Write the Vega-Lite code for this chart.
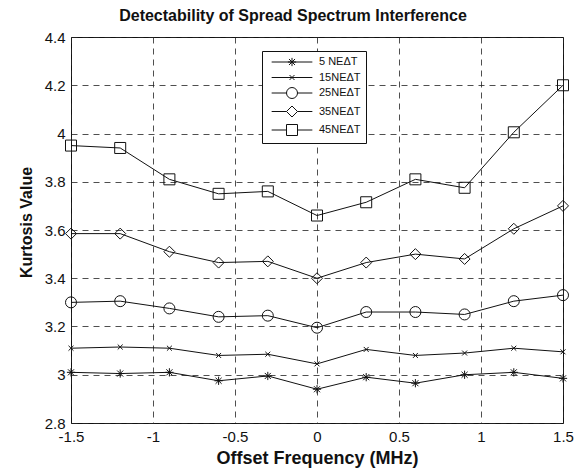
{
  "$schema": "https://vega.github.io/schema/vega-lite/v6.json",
  "width": 492,
  "height": 386,
  "autosize": {"type": "none"},
  "padding": {"left": 71, "top": 37, "right": 21, "bottom": 47},
  "background": "white",
  "title": {"text": "Detectability of Spread Spectrum Interference", "font": "Liberation Sans", "fontSize": 16, "fontWeight": "bold", "color": "#111", "offset": 6, "dx": -24},
  "config": {
    "view": {"stroke": "#111", "strokeWidth": 1},
    "axis": {"labelFont": "Liberation Sans", "titleFont": "Liberation Sans", "labelFontSize": 15, "titleFontSize": 16, "titleFontWeight": "bold", "labelColor": "#111", "titleColor": "#111", "grid": true, "gridColor": "#222", "gridDash": [6, 5], "gridOpacity": 1, "gridWidth": 0.8, "domain": false, "ticks": false, "labelOverlap": false, "labelFlush": false, "labelBound": false, "labelExpr": "'' + datum.value"}
  },
  "resolve": {"scale": {"shape": "independent"}},
  "data": {"values": [
    {"x": -1.5, "s": "5 NEΔT", "y": 3.01}, {"x": -1.2, "s": "5 NEΔT", "y": 3.005}, {"x": -0.9, "s": "5 NEΔT", "y": 3.01}, {"x": -0.6, "s": "5 NEΔT", "y": 2.975}, {"x": -0.3, "s": "5 NEΔT", "y": 2.995}, {"x": 0, "s": "5 NEΔT", "y": 2.94}, {"x": 0.3, "s": "5 NEΔT", "y": 2.99}, {"x": 0.6, "s": "5 NEΔT", "y": 2.965}, {"x": 0.9, "s": "5 NEΔT", "y": 3.0}, {"x": 1.2, "s": "5 NEΔT", "y": 3.01}, {"x": 1.5, "s": "5 NEΔT", "y": 2.985},
    {"x": -1.5, "s": "15NEΔT", "y": 3.11}, {"x": -1.2, "s": "15NEΔT", "y": 3.115}, {"x": -0.9, "s": "15NEΔT", "y": 3.11}, {"x": -0.6, "s": "15NEΔT", "y": 3.08}, {"x": -0.3, "s": "15NEΔT", "y": 3.085}, {"x": 0, "s": "15NEΔT", "y": 3.045}, {"x": 0.3, "s": "15NEΔT", "y": 3.105}, {"x": 0.6, "s": "15NEΔT", "y": 3.08}, {"x": 0.9, "s": "15NEΔT", "y": 3.09}, {"x": 1.2, "s": "15NEΔT", "y": 3.11}, {"x": 1.5, "s": "15NEΔT", "y": 3.095},
    {"x": -1.5, "s": "25NEΔT", "y": 3.30}, {"x": -1.2, "s": "25NEΔT", "y": 3.305}, {"x": -0.9, "s": "25NEΔT", "y": 3.275}, {"x": -0.6, "s": "25NEΔT", "y": 3.24}, {"x": -0.3, "s": "25NEΔT", "y": 3.245}, {"x": 0, "s": "25NEΔT", "y": 3.195}, {"x": 0.3, "s": "25NEΔT", "y": 3.26}, {"x": 0.6, "s": "25NEΔT", "y": 3.26}, {"x": 0.9, "s": "25NEΔT", "y": 3.25}, {"x": 1.2, "s": "25NEΔT", "y": 3.305}, {"x": 1.5, "s": "25NEΔT", "y": 3.33},
    {"x": -1.5, "s": "35NEΔT", "y": 3.585}, {"x": -1.2, "s": "35NEΔT", "y": 3.585}, {"x": -0.9, "s": "35NEΔT", "y": 3.51}, {"x": -0.6, "s": "35NEΔT", "y": 3.465}, {"x": -0.3, "s": "35NEΔT", "y": 3.47}, {"x": 0, "s": "35NEΔT", "y": 3.40}, {"x": 0.3, "s": "35NEΔT", "y": 3.465}, {"x": 0.6, "s": "35NEΔT", "y": 3.50}, {"x": 0.9, "s": "35NEΔT", "y": 3.48}, {"x": 1.2, "s": "35NEΔT", "y": 3.605}, {"x": 1.5, "s": "35NEΔT", "y": 3.70},
    {"x": -1.5, "s": "45NEΔT", "y": 3.95}, {"x": -1.2, "s": "45NEΔT", "y": 3.94}, {"x": -0.9, "s": "45NEΔT", "y": 3.81}, {"x": -0.6, "s": "45NEΔT", "y": 3.75}, {"x": -0.3, "s": "45NEΔT", "y": 3.76}, {"x": 0, "s": "45NEΔT", "y": 3.66}, {"x": 0.3, "s": "45NEΔT", "y": 3.715}, {"x": 0.6, "s": "45NEΔT", "y": 3.81}, {"x": 0.9, "s": "45NEΔT", "y": 3.775}, {"x": 1.2, "s": "45NEΔT", "y": 4.005}, {"x": 1.5, "s": "45NEΔT", "y": 4.2}
  ]},
  "encoding": {
    "x": {"field": "x", "type": "quantitative", "scale": {"domain": [-1.5, 1.5], "nice": false, "zero": false}, "axis": {"values": [-1.5, -1, -0.5, 0, 0.5, 1, 1.5], "title": "Offset Frequency (MHz)", "titleFontSize": 18, "titlePadding": 5, "labelPadding": 6}},
    "y": {"field": "y", "type": "quantitative", "scale": {"domain": [2.8, 4.4], "nice": false, "zero": false}, "axis": {"values": [2.8, 3, 3.2, 3.4, 3.6, 3.8, 4, 4.2, 4.4], "title": "Kurtosis Value", "titlePadding": 10, "titleY": 185, "labelPadding": 6, "encode": {"labels": {"update": {"dy": {"signal": "datum.value == 2.8 ? -5 : 0"}}}}}}
  },
  "layer": [
    {"mark": {"type": "line", "color": "#111", "strokeWidth": 1}, "encoding": {"detail": {"field": "s"}}},
    {"mark": {"type": "point", "filled": false, "color": "#111", "strokeWidth": 1, "size": 121, "opacity": 1},
     "encoding": {"shape": {"field": "s", "type": "nominal",
       "scale": {"domain": ["5 NEΔT", "15NEΔT", "25NEΔT", "35NEΔT", "45NEΔT"],
                 "range": ["M-0.75,0L0.75,0M0,-0.75L0,0.75M-0.55,-0.55L0.55,0.55M-0.55,0.55L0.55,-0.55", "M-0.45,-0.45L0.45,0.45M-0.45,0.45L0.45,-0.45", "circle", "diamond", "square"]},
       "legend": null}}},
    {"mark": {"type": "point", "filled": false, "color": "#111", "strokeWidth": 1, "size": 121, "opacity": 0},
     "encoding": {"shape": {"field": "s", "type": "nominal",
       "scale": {"domain": ["5 NEΔT", "15NEΔT", "25NEΔT", "35NEΔT", "45NEΔT"],
                 "range": ["M-3.7,0L3.7,0M-0.75,0L0.75,0M0,-0.75L0,0.75M-0.55,-0.55L0.55,0.55M-0.55,0.55L0.55,-0.55", "M-3.7,0L3.7,0M-0.45,-0.45L0.45,0.45M-0.45,0.45L0.45,-0.45", "M-3.7,0L-1,0M1,0L3.7,0M1,0A1,1,0,1,1,-1,0A1,1,0,1,1,1,0", "M-3.7,0L-1,0M1,0L3.7,0M0,-1L1,0L0,1L-1,0Z", "M-3.7,0L-1,0M1,0L3.7,0M-1,-1L1,-1L1,1L-1,1Z"]},
       "legend": {"title": null, "orient": "none", "legendX": 191, "legendY": 14, "fillColor": "white", "strokeColor": "#111", "padding": 5, "symbolOffset": 19, "labelOffset": 21, "labelFont": "Liberation Sans", "labelFontSize": 11, "labelColor": "#111", "rowPadding": 2.5, "symbolSize": 121, "symbolStrokeColor": "#111", "symbolFillColor": "transparent", "symbolStrokeWidth": 1, "symbolOpacity": 1}}}}
  ]
}
